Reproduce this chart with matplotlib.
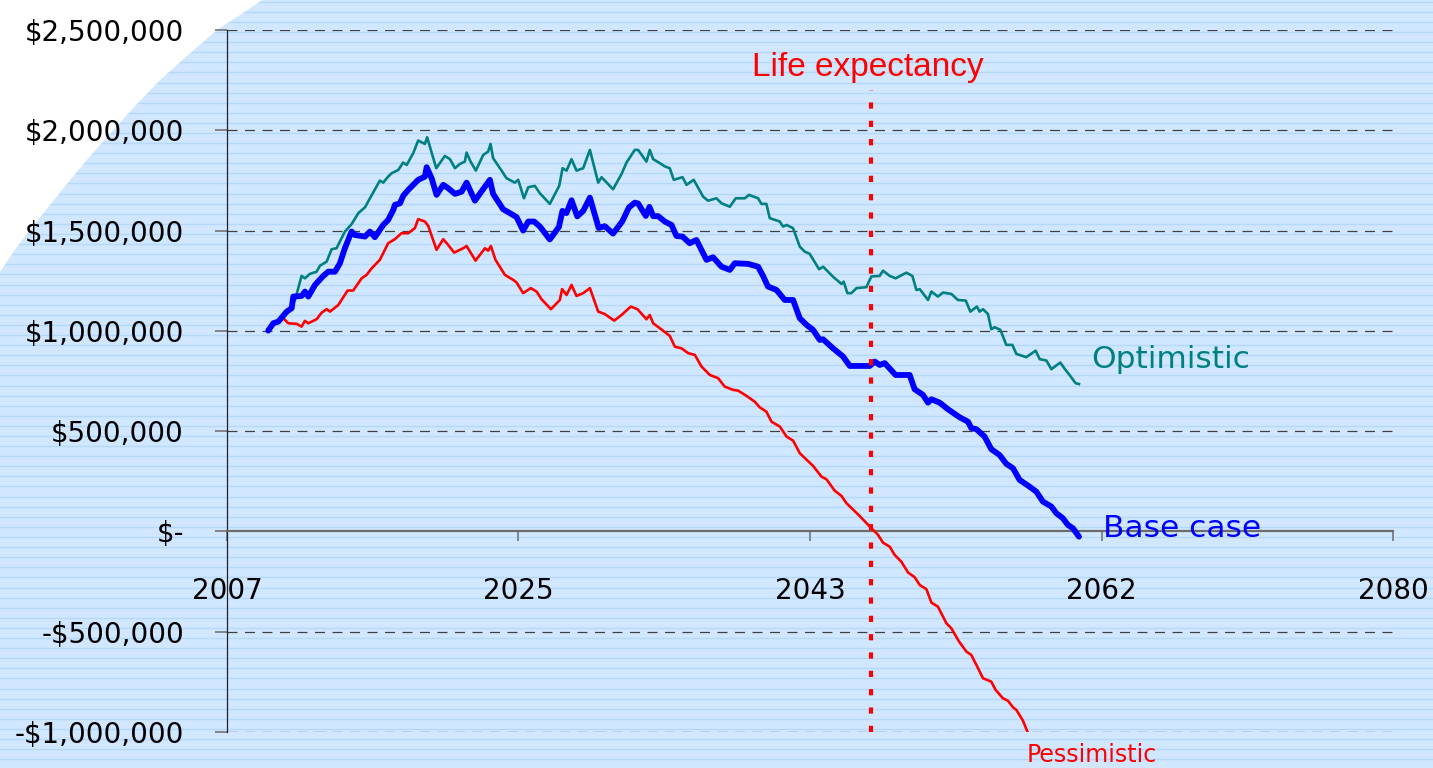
import numpy as np
import matplotlib
matplotlib.use("Agg")
import matplotlib.pyplot as plt
from matplotlib.patches import Polygon, Rectangle

# --- data, values in $ thousands ---
opt_years = [2009.58, 2010.00, 2010.42, 2010.94, 2011.26, 2011.67, 2011.88, 2012.19, 2012.61, 2012.82,
             2013.24, 2013.55, 2013.86, 2014.38, 2014.80, 2015.22, 2015.64, 2015.95, 2016.57, 2016.78,
             2017.09, 2017.31, 2017.72, 2018.03, 2018.25, 2018.66, 2018.97, 2019.39, 2019.53, 2020.10,
             2020.64, 2020.96, 2021.27, 2021.58, 2021.89, 2022.00, 2022.25, 2022.58, 2023.04, 2023.35,
             2023.50, 2023.66, 2024.19, 2024.50, 2025.02, 2025.23, 2025.59, 2025.86, 2026.27, 2026.59,
             2027.21, 2027.80, 2028.01, 2028.26, 2028.57, 2028.88, 2029.30, 2029.72, 2030.24, 2030.45,
             2031.17, 2031.70, 2032.01, 2032.53, 2032.74, 2033.26, 2033.47, 2033.68, 2034.10, 2034.41,
             2034.72, 2034.97, 2035.52, 2035.77, 2036.22, 2036.81, 2037.12, 2037.64, 2037.96, 2038.48,
             2038.85, 2039.42, 2039.68, 2040.25, 2040.46, 2040.77, 2040.98, 2041.61, 2041.81, 2042.03,
             2042.44, 2042.86, 2043.17, 2043.48, 2044.07, 2044.32, 2044.94, 2045.47, 2045.61, 2045.84,
             2046.09, 2046.41, 2047.03, 2047.34, 2047.86, 2048.07, 2048.49, 2048.86, 2049.53, 2049.91,
             2050.16, 2050.37, 2050.89, 2051.10, 2051.51, 2051.83, 2052.35, 2052.76, 2053.25, 2053.54,
             2053.95, 2054.12, 2054.33, 2054.64, 2054.85, 2055.06, 2055.42, 2055.79, 2056.17, 2056.42,
             2057.04, 2057.63, 2057.88, 2058.30, 2058.61, 2059.17, 2059.50, 2059.75, 2060.13, 2060.34]
opt_values = [1001, 1041, 1063, 1113, 1154, 1274, 1262, 1284, 1295, 1325,
              1345, 1407, 1412, 1495, 1532, 1587, 1616, 1661, 1749, 1739,
              1769, 1786, 1802, 1839, 1827, 1886, 1949, 1932, 1965, 1811,
              1872, 1856, 1811, 1832, 1844, 1889, 1844, 1799, 1877, 1894,
              1932, 1861, 1799, 1761, 1739, 1753, 1661, 1716, 1723, 1686,
              1633, 1723, 1811, 1799, 1856, 1799, 1811, 1902, 1739, 1766,
              1706, 1782, 1839, 1902, 1902, 1844, 1902, 1856, 1836, 1820,
              1811, 1753, 1766, 1728, 1753, 1669, 1649, 1661, 1636, 1619,
              1661, 1661, 1678, 1661, 1633, 1633, 1562, 1545, 1520, 1528,
              1512, 1420, 1395, 1384, 1307, 1320, 1270, 1234, 1245, 1188,
              1188, 1213, 1218, 1271, 1274, 1300, 1274, 1262, 1290, 1274,
              1204, 1208, 1154, 1196, 1171, 1191, 1184, 1154, 1151, 1096,
              1121, 1096, 1108, 1084, 1008, 1018, 1005, 930, 930, 885,
              869, 901, 859, 852, 809, 842, 805, 780, 739, 735]

base_years = [2009.58, 2009.90, 2010.21, 2010.74, 2011.05, 2011.15, 2011.67, 2011.88, 2012.09, 2012.51,
              2013.03, 2013.34, 2013.76, 2014.07, 2014.38, 2014.80, 2015.01, 2015.64, 2015.95, 2016.26,
              2016.78, 2017.09, 2017.41, 2017.51, 2017.83, 2018.03, 2018.35, 2018.66, 2018.97, 2019.39,
              2019.50, 2019.81, 2020.12, 2020.54, 2020.85, 2021.27, 2021.69, 2022.00, 2022.52, 2023.15,
              2023.46, 2023.66, 2024.29, 2024.71, 2025.13, 2025.54, 2025.86, 2026.23, 2026.59, 2027.21,
              2027.78, 2028.00, 2028.25, 2028.57, 2028.93, 2029.30, 2029.72, 2030.27, 2030.65, 2031.17,
              2031.75, 2032.16, 2032.53, 2032.74, 2033.22, 2033.45, 2033.68, 2033.99, 2034.41, 2034.83,
              2035.14, 2035.52, 2035.97, 2036.39, 2037.02, 2037.43, 2037.96, 2038.48, 2038.79, 2039.62,
              2040.25, 2040.56, 2040.87, 2041.40, 2041.92, 2042.44, 2042.86, 2043.28, 2043.69, 2044.11,
              2044.32, 2044.94, 2045.57, 2045.99, 2047.24, 2047.55, 2047.86, 2048.18, 2048.86, 2049.74,
              2050.05, 2050.57, 2050.89, 2051.10, 2051.62, 2052.14, 2052.87, 2053.39, 2053.60, 2053.91,
              2054.43, 2054.85, 2055.37, 2055.79, 2056.21, 2056.62, 2057.25, 2057.67, 2058.08, 2058.61,
              2058.92, 2059.33, 2059.65, 2059.96, 2060.34]
base_values = [1001, 1038, 1046, 1096, 1113, 1171, 1174, 1196, 1171, 1229,
               1274, 1295, 1295, 1337, 1412, 1495, 1478, 1470, 1495, 1467,
               1528, 1553, 1603, 1628, 1636, 1673, 1703, 1728, 1753, 1769,
               1816, 1761, 1678, 1728, 1711, 1683, 1694, 1739, 1649, 1719,
               1753, 1683, 1606, 1587, 1567, 1500, 1545, 1545, 1520, 1456,
               1518, 1598, 1587, 1651, 1571, 1598, 1664, 1513, 1522, 1485,
               1546, 1615, 1639, 1635, 1573, 1618, 1572, 1572, 1545, 1528,
               1473, 1470, 1437, 1453, 1354, 1367, 1320, 1304, 1337, 1334,
               1320, 1274, 1221, 1204, 1154, 1154, 1063, 1030, 1005, 955,
               958, 913, 872, 825, 825, 847, 830, 839, 780, 780,
               709, 681, 642, 659, 642, 609, 569, 547, 515, 510,
               473, 410, 381, 337, 315, 257, 223, 198, 149, 124,
               91, 66, 32, 16, -26]

pess_years = [2009.58, 2010.00, 2010.52, 2010.84, 2011.36, 2011.67, 2011.88, 2012.09, 2012.61, 2012.93,
              2013.24, 2013.45, 2013.97, 2014.55, 2014.90, 2015.43, 2015.74, 2016.06, 2016.57, 2017.09,
              2017.51, 2017.93, 2018.35, 2018.76, 2018.97, 2019.39, 2019.60, 2020.12, 2020.54, 2020.85,
              2021.22, 2021.79, 2022.00, 2022.56, 2023.15, 2023.35, 2023.52, 2023.81, 2024.40, 2024.92,
              2025.13, 2025.54, 2026.02, 2026.38, 2026.69, 2027.28, 2027.84, 2027.98, 2028.26, 2028.57,
              2028.88, 2029.30, 2029.72, 2030.24, 2030.65, 2031.24, 2031.70, 2032.28, 2032.70, 2033.26,
              2033.47, 2033.68, 2034.10, 2034.72, 2035.04, 2035.45, 2035.87, 2036.29, 2036.71, 2037.23,
              2037.75, 2038.16, 2038.68, 2039.00, 2039.52, 2040.04, 2040.35, 2040.77, 2041.09, 2041.61,
              2042.03, 2042.44, 2042.86, 2043.69, 2044.22, 2044.53, 2045.05, 2045.47, 2045.78, 2046.61,
              2047.34, 2047.76, 2048.07, 2048.49, 2048.80, 2049.22, 2049.64, 2050.05, 2050.37, 2050.79,
              2051.10, 2051.51, 2052.04, 2052.35, 2052.83, 2053.29, 2053.60, 2054.02, 2054.33, 2054.85,
              2055.12, 2055.58, 2055.89, 2056.21, 2056.42, 2056.83, 2057.11]
pess_values = [1001, 1035, 1063, 1038, 1035, 1021, 1050, 1038, 1058, 1091,
               1108, 1096, 1129, 1201, 1201, 1262, 1279, 1312, 1354, 1437,
               1457, 1487, 1487, 1512, 1557, 1545, 1523, 1404, 1457, 1428,
               1390, 1412, 1423, 1350, 1412, 1400, 1423, 1354, 1279, 1254,
               1241, 1188, 1213, 1196, 1158, 1108, 1154, 1208, 1179, 1229,
               1174, 1188, 1213, 1096, 1084, 1051, 1079, 1121, 1108, 1058,
               1079, 1038, 1013, 975, 921, 913, 889, 880, 822, 780,
               764, 722, 706, 702, 676, 647, 619, 597, 547, 523,
               473, 453, 390, 327, 273, 260, 203, 177, 141, 77,
               16, -17, -56, -76, -117, -151, -205, -228, -267, -288,
               -355, -375, -458, -483, -549, -599, -616, -682, -732, -749,
               -790, -832, -844, -877, -890, -943, -998]

life_expectancy_year = 2047.3
life_line_top = 2200000

x_tick_pos = [2007, 2025.25, 2043.5, 2061.75, 2080]
x_tick_labels = ["2007", "2025", "2043", "2062", "2080"]
y_ticks = [-1000000, -500000, 0, 500000, 1000000, 1500000, 2000000, 2500000]
y_tick_labels = ["-$1,000,000", "-$500,000", "$-", "$500,000", "$1,000,000",
                 "$1,500,000", "$2,000,000", "$2,500,000"]

TEAL = "#008080"
BLUE = "#0000ff"
RED = "#ff0000"

plt.rcParams["font.family"] = ["DejaVu Sans"]

fig = plt.figure(figsize=(14.33, 7.68), dpi=100)

# background: light blue with thin horizontal stripes and white top-left corner
bg = fig.add_axes([0, 0, 1, 1], zorder=0)
bg.set_xlim(0, 1433)
bg.set_ylim(768, 0)
bg.axis("off")
bg.add_patch(Rectangle((0, 0), 1433, 768, facecolor="#d0e7ff", edgecolor="none", zorder=0))
for yy in np.arange(1.7, 768, 10.1):
    bg.axhline(yy, color="#b6d8fc", lw=1.0, zorder=1)
corner = [(0, 0), (262, 0), (240, 15), (217, 30), (188, 55), (160, 80), (137, 104), (115, 128),
          (92, 154), (70, 180), (50, 205), (30, 230), (14, 251), (0, 272)]
bg.add_patch(Polygon(corner, closed=True, facecolor="white", edgecolor="none", zorder=3))

ax = fig.add_axes([227 / 1433, 36 / 768, 1166 / 1433, 702 / 768], zorder=1)
ax.patch.set_alpha(0)
ax.set_xlim(2007, 2080)
ax.set_ylim(-1000000, 2500000)

for yv in y_ticks:
    if yv != 0:
        ax.axhline(yv, color="#404040", lw=0.9, linestyle=(0, (8, 6)), zorder=1)

ax.plot(opt_years, np.array(opt_values) * 1000, color=TEAL, lw=1.9, zorder=3,
        solid_joinstyle="round")
ax.plot(pess_years, np.array(pess_values) * 1000, color=RED, lw=1.9, zorder=3,
        solid_joinstyle="round")
ax.plot(base_years, np.array(base_values) * 1000, color=BLUE, lw=4.2, zorder=4,
        solid_joinstyle="round", solid_capstyle="round")

ax.vlines(life_expectancy_year, -1000000, life_line_top, color=RED, lw=3.0,
          linestyles=(0, (1.5, 2.9)), zorder=5)

ax.text(2047.1, 2311000, "Life expectancy", color=RED, fontsize=24,
        family="Liberation Sans", ha="center", va="center")
ax.text(2061.13, 855000, "Optimistic", color=TEAL, fontsize=22.5, ha="left", va="center")
ax.text(2061.82, 17000, "Base case", color=BLUE, fontsize=22.5, ha="left", va="center")
ax.text(2057.06, -1114000, "Pessimistic", color=RED, fontsize=17, ha="left", va="center",
        clip_on=False)

for s in ["top", "right"]:
    ax.spines[s].set_visible(False)
ax.spines["left"].set_color("#222222")
ax.spines["left"].set_linewidth(0.9)
ax.spines["bottom"].set_position(("data", 0))
ax.spines["bottom"].set_color("#6b6b6b")
ax.spines["bottom"].set_linewidth(1.6)

ax.set_xticks(x_tick_pos)
ax.set_xticklabels(x_tick_labels)
ax.set_yticks(y_ticks)
ax.set_yticklabels(y_tick_labels)
ax.tick_params(axis="x", direction="out", length=7, width=1.1, color="#6b6b6b",
               pad=26, labelsize=20)
ax.tick_params(axis="y", direction="out", length=9, width=1.1, color="#6b6b6b",
               pad=22, labelsize=20)

fig.savefig("out.png", dpi=100)
